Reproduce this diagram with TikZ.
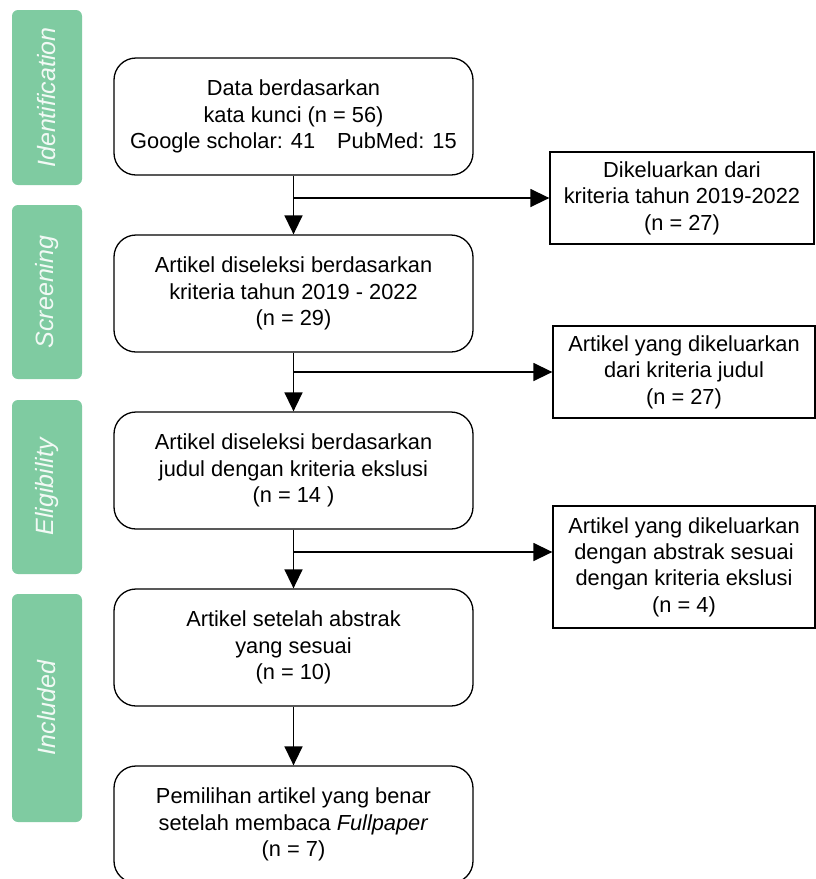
\documentclass[tikz,border=0pt]{standalone}
\usepackage{fontspec}
\setmainfont{Liberation Sans}
\usepackage{xcolor}
\usepackage{tikz}
\usetikzlibrary{arrows.meta,positioning,calc}
\definecolor{phasegreen}{RGB}{127,203,161}

\begin{document}
\begin{tikzpicture}[x=1pt, y=-1pt, node distance=177pt,
    font=\fontsize{21.8}{26.4}\selectfont,
    block/.style={rectangle, rounded corners=22pt, draw=black, line width=1.3pt, minimum width=359pt, minimum height=117pt, align=center},
    excl/.style={rectangle, draw=black, line width=1.3pt, minimum width=262pt, align=center},
    phase/.style={rectangle, rounded corners=6pt, fill=phasegreen, minimum height=70pt, text=white, text opacity=0.9, rotate=90, font=\fontsize{25}{30}\selectfont\itshape},
    arrow/.style={-{Triangle[length=19pt, width=18pt]}, line width=1.5pt}]
  \useasboundingbox (0,0) rectangle (815,879);
  % phases
  \node[phase, minimum width=175pt] (identlab) at (47,97.5) {Identification};
  \node[phase, minimum width=174pt] (screenlab) at (47,292) {Screening};
  \node[phase, minimum width=174pt] (eliglab) at (47,487) {Eligibility};
  \node[phase, minimum width=228pt] (inclab) at (47,708) {Included};
  % main flow
  \node[block] (data) at (293.5,116.5) {Data berdasarkan\\kata kunci (n = 56)\\Google scholar: 41\hspace{22pt}PubMed: 15};
  \node[block, below of=data] (screen) {Artikel diseleksi berdasarkan\\kriteria tahun 2019 - 2022\\(n = 29)};
  \node[block, below of=screen] (title) {Artikel diseleksi berdasarkan\\judul dengan kriteria ekslusi\\(n = 14 )};
  \node[block, below of=title] (abstract) {Artikel setelah abstrak\\yang sesuai\\(n = 10)};
  \node[block, below of=abstract] (full) {Pemilihan artikel yang benar\\setelah membaca \textit{Fullpaper}\\(n = 7)};
  % excluded
  \node[excl, minimum width=264pt, minimum height=92pt] (exyear) at (682,198) {Dikeluarkan dari\\kriteria tahun 2019-2022\\(n = 27)};
  \node[excl, minimum height=92pt] (extitle) at (684,372) {Artikel yang dikeluarkan\\dari kriteria judul\\(n = 27)};
  \node[excl, minimum height=122pt] (exabs) at (684,567) {Artikel yang dikeluarkan\\dengan abstrak sesuai\\dengan kriteria ekslusi\\(n = 4)};
  \coordinate (br1) at (data.south |- exyear.west);
  \coordinate (br2) at (screen.south |- extitle.west);
  \coordinate (br3) at (293.5,552);
  \draw[arrow] (data) -- (screen);
  \draw[arrow] (screen) -- (title);
  \draw[arrow] (title) -- (abstract);
  \draw[arrow] (abstract) -- (full);
  \draw[arrow] (br1) -- (exyear);
  \draw[arrow] (br2) -- (extitle);
  \draw[arrow] (br3) -- (br3 -| exabs.west);
\end{tikzpicture}
\end{document}
